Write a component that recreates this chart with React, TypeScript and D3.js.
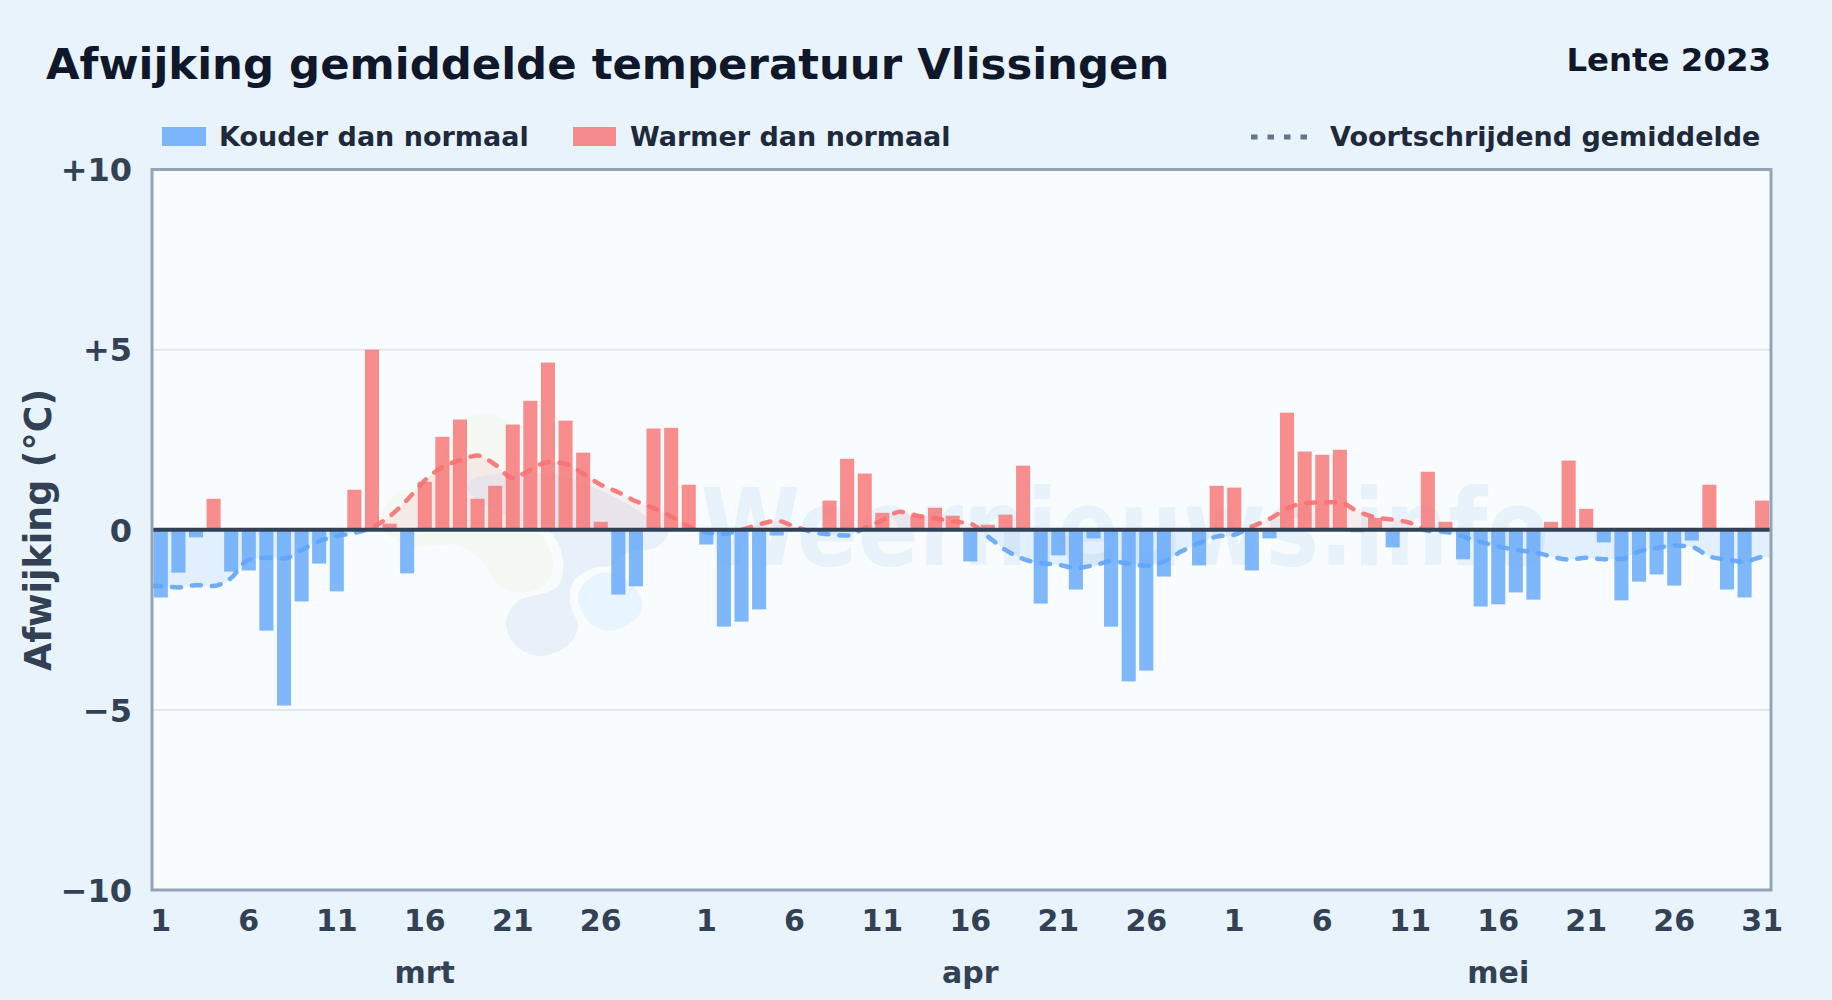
import React, { useEffect, useRef } from "react";
import * as d3 from "d3";

// afwijking per dag, 1 mrt t/m 31 mei 2023
const anomalies: number[] = [
  -1.88, -1.19, -0.21, 0.86, -1.16, -1.13, -2.8, -4.88, -1.99, -0.94, -1.71, 1.11, 5.0, 0.17, -1.21, 1.33,
  2.58, 3.06, 0.86, 1.22, 2.92, 3.58, 4.64, 3.03, 2.14, 0.22, -1.8, -1.57, 2.81, 2.83, 1.25,
  -0.41, -2.69, -2.55, -2.21, -0.16, 0, 0, 0.81, 1.97, 1.56, 0.47, 0, 0.39, 0.61, 0.39, -0.88, 0.14, 0.42, 1.78,
  -2.05, -0.71, -1.66, -0.24, -2.69, -4.21, -3.91, -1.3, 0, -0.99, 1.22,
  1.17, -1.13, -0.24, 3.25, 2.17, 2.08, 2.22, -0.07, 0.33, -0.49, 0, 1.61, 0.22, -0.82, -2.13, -2.07, -1.74, -1.94,
  0.22, 1.92, 0.58, -0.35, -1.96, -1.44, -1.24, -1.55, -0.3, 1.25, -1.66, -1.88, 0.81,
];

// voortschrijdend gemiddelde
const movingAvg: number[] = [
  -1.56, -1.6, -1.54, -1.56, -1.34, -0.83, -0.78, -0.8, -0.56, -0.32, -0.17, -0.09, 0.07, 0.37, 0.83, 1.37,
  1.74, 1.93, 2.06, 1.81, 1.44, 1.67, 1.88, 1.83, 1.56, 1.25, 1.04, 0.79, 0.6, 0.37, 0.09,
  -0.07, -0.11, 0, 0.15, 0.25, 0.09, -0.06, -0.13, -0.16, 0.05, 0.26, 0.5, 0.39, 0.32, 0.23, 0.17, -0.19, -0.56, -0.81,
  -0.93, -0.97, -1.06, -0.99, -0.88, -0.94, -1.0, -0.88, -0.6, -0.37, -0.19,
  -0.14, 0.09, 0.3, 0.59, 0.74, 0.76, 0.76, 0.51, 0.35, 0.28, 0.19, -0.03, -0.06, -0.19, -0.34, -0.46, -0.56, -0.62,
  -0.74, -0.83, -0.78, -0.82, -0.81, -0.6, -0.51, -0.44, -0.48, -0.74, -0.83, -0.89, -0.76,
];

const monthNames = ["mrt", "apr", "mei"];
const monthLengths = [31, 30, 31];
const dayTicks = [1, 6, 11, 16, 21, 26];
const yTicks = [-10, -5, 0, 5, 10];
const gridValues = [-5, 5];

// watermerk-logo, ruwe omtrekken
const blobGreen: [number, number][] = [
  [380, 520], [397, 492], [418, 487], [440, 460], [457, 423], [483, 413], [507, 422], [515, 450], [527, 517], [543, 537],
  [553, 563], [545, 585], [520, 593], [500, 587], [480, 560], [457, 545], [417, 547], [390, 537],
];
const blobBlue: [number, number][] = [
  [467, 483], [503, 473], [560, 475], [593, 487], [620, 500], [647, 517], [668, 533], [657, 547], [627, 553], [613, 565],
  [593, 568], [573, 582], [570, 603], [578, 627], [568, 645], [542, 656], [517, 647], [506, 623], [517, 602], [557, 587],
  [563, 560], [550, 532], [510, 517], [473, 497],
];
const blobLight: [number, number][] = [
  [578, 597], [590, 578], [613, 573], [637, 590], [642, 610], [630, 623], [610, 631], [590, 623],
];

const W = 1832;
const H = 1000;
const margin = { top: 169.5, right: 61, bottom: 110, left: 152 };
const FONT = "'DejaVu Sans', sans-serif";
const AXIS_COLOR = "#334155";
const BLUE = "#60a5fa";
const RED = "#f87171";

const monthIndex = (m: number) => d3.sum(monthLengths.slice(0, m));

const App: React.FC = () => {
  const ref = useRef<SVGSVGElement | null>(null);

  useEffect(() => {
    if (!ref.current) return;
    const svg = d3.select(ref.current);
    svg.selectAll("*").remove();

    const x0 = margin.left;
    const x1 = W - margin.right;
    const y0 = margin.top;
    const y1 = H - margin.bottom;

    const x = d3.scaleBand<number>().domain(d3.range(anomalies.length)).range([x0, x1]).paddingInner(0.2).paddingOuter(0.1);
    const xc = d3.scaleLinear().domain([-0.5, anomalies.length - 0.5]).range([x0, x1]);
    const y = d3.scaleLinear().domain([-10, 10]).range([y1, y0]);

    svg.append("rect").attr("width", W).attr("height", H).attr("fill", "#e8f3fc");
    svg.append("rect").attr("x", x0).attr("y", y0).attr("width", x1 - x0).attr("height", y1 - y0).attr("fill", "#f8fcff");

    const defs = svg.append("defs");
    defs.append("clipPath").attr("id", "above").append("rect").attr("x", x0).attr("y", y0).attr("width", x1 - x0).attr("height", y(0) - y0);
    defs.append("clipPath").attr("id", "below").append("rect").attr("x", x0).attr("y", y(0)).attr("width", x1 - x0).attr("height", y1 - y(0));

    // watermerk
    const blob = d3.line().curve(d3.curveCatmullRomClosed);
    svg.append("path").attr("d", blob(blobGreen)).attr("fill", "#f4f9f3");
    svg.append("path").attr("d", blob(blobBlue)).attr("fill", "#e8f1f9");
    svg.append("path").attr("d", blob(blobLight)).attr("fill", "#e9f5fe");
    svg.append("text")
      .attr("transform", "translate(1125,565) scale(0.84,1)")
      .attr("text-anchor", "middle")
      .attr("font-family", FONT).attr("font-weight", 700).attr("font-size", 107)
      .attr("fill", "#e8f2fa")
      .text("Weernieuws.info");

    // raster
    svg.append("g").selectAll("line").data(gridValues).join("line")
      .attr("x1", x0).attr("x2", x1)
      .attr("y1", d => y(d)).attr("y2", d => y(d))
      .attr("stroke", "#e2e8f0").attr("stroke-width", 2);

    // gebied + lijn
    const pts: [number, number][] = [
      [-0.5, movingAvg[0]],
      ...movingAvg.map((v, i) => [i, v] as [number, number]),
      [anomalies.length - 0.5, movingAvg[movingAvg.length - 1]],
    ];
    const area = d3.area<[number, number]>().x(d => xc(d[0])).y0(y(0)).y1(d => y(d[1])).curve(d3.curveMonotoneX);
    const line = d3.line<[number, number]>().x(d => xc(d[0])).y(d => y(d[1])).curve(d3.curveMonotoneX);

    svg.append("path").attr("d", area(pts)).attr("fill", RED).attr("opacity", 0.1).attr("clip-path", "url(#above)");
    svg.append("path").attr("d", area(pts)).attr("fill", BLUE).attr("opacity", 0.15).attr("clip-path", "url(#below)");

    // staven
    svg.append("g").selectAll("rect").data(anomalies.map((v, i) => ({ v, i })).filter(d => d.v !== 0)).join("rect")
      .attr("x", d => x(d.i) as number)
      .attr("width", x.bandwidth())
      .attr("y", d => y(Math.max(d.v, 0)))
      .attr("height", d => Math.abs(y(d.v) - y(0)))
      .attr("fill", d => (d.v > 0 ? RED : BLUE))
      .attr("opacity", 0.8);

    const dashed = (color: string, clip: string) =>
      svg.append("path").attr("d", line(pts)).attr("fill", "none")
        .attr("stroke", color).attr("stroke-width", 4.5).attr("opacity", 0.9)
        .attr("stroke-dasharray", "9 11").attr("stroke-linecap", "round")
        .attr("clip-path", `url(#${clip})`);
    dashed(RED, "above");
    dashed(BLUE, "below");

    // nullijn en kader
    svg.append("line").attr("x1", x0).attr("x2", x1).attr("y1", y(0)).attr("y2", y(0)).attr("stroke", AXIS_COLOR).attr("stroke-width", 4);
    svg.append("rect").attr("x", x0).attr("y", y0).attr("width", x1 - x0).attr("height", y1 - y0)
      .attr("fill", "none").attr("stroke", "#94a3b8").attr("stroke-width", 3);

    // y-as
    const yAxis = svg.append("g").attr("transform", `translate(${x0},1)`)
      .call(d3.axisLeft(y).tickValues(yTicks).tickSize(0).tickPadding(20)
        .tickFormat(d => (+d > 0 ? `+${d}` : +d < 0 ? `\u2212${Math.abs(+d)}` : "0")));
    yAxis.select(".domain").remove();
    yAxis.selectAll("text").attr("font-family", FONT).attr("font-weight", 700).attr("font-size", 32).attr("fill", AXIS_COLOR);

    svg.append("text")
      .attr("transform", `translate(51,530) rotate(-90)`)
      .attr("text-anchor", "middle")
      .attr("font-family", FONT).attr("font-weight", 700).attr("font-size", 36.4).attr("fill", AXIS_COLOR)
      .text("Afwijking (\u00b0C)");

    // x-as: dagen en maanden
    const xTicks: { i: number; label: string }[] = [];
    monthLengths.forEach((_, m) => dayTicks.forEach(d => xTicks.push({ i: monthIndex(m) + d - 1, label: String(d) })));
    xTicks.push({ i: anomalies.length - 1, label: "31" });
    const labels = new Map(xTicks.map(t => [t.i, t.label]));

    const xAxis = svg.append("g").attr("transform", `translate(0,${y1})`)
      .call(d3.axisBottom(x).tickValues(xTicks.map(t => t.i)).tickSize(0).tickPadding(20)
        .tickFormat(d => labels.get(d) ?? ""));
    xAxis.select(".domain").remove();
    xAxis.selectAll("text").attr("font-family", FONT).attr("font-weight", 700).attr("font-size", 30).attr("fill", AXIS_COLOR);

    svg.append("g").selectAll("text").data(monthNames).join("text")
      .attr("x", (_, m) => (x(monthIndex(m) + 15) as number) + x.bandwidth() / 2)
      .attr("y", 983)
      .attr("text-anchor", "middle")
      .attr("font-family", FONT).attr("font-weight", 700).attr("font-size", 30).attr("fill", AXIS_COLOR)
      .text(d => d);

    // titels
    svg.append("text").attr("x", 46).attr("y", 79)
      .attr("font-family", FONT).attr("font-weight", 700).attr("font-size", 43.4).attr("fill", "#0f172a")
      .text("Afwijking gemiddelde temperatuur Vlissingen");
    svg.append("text").attr("x", 1771).attr("y", 71).attr("text-anchor", "end")
      .attr("font-family", FONT).attr("font-weight", 700).attr("font-size", 32.4).attr("fill", "#0f172a")
      .text("Lente 2023");

    // legenda
    const legendText = (tx: number, label: string) =>
      svg.append("text").attr("x", tx).attr("y", 146)
        .attr("font-family", FONT).attr("font-weight", 700).attr("font-size", 27).attr("fill", "#1e293b")
        .text(label);
    svg.append("rect").attr("x", 162).attr("y", 127).attr("width", 44).attr("height", 19).attr("fill", BLUE).attr("opacity", 0.8);
    legendText(219, "Kouder dan normaal");
    svg.append("rect").attr("x", 573).attr("y", 127).attr("width", 43).attr("height", 19).attr("fill", RED).attr("opacity", 0.8);
    legendText(630, "Warmer dan normaal");
    svg.append("line").attr("x1", 1251).attr("x2", 1308).attr("y1", 137).attr("y2", 137)
      .attr("stroke", "#64748b").attr("stroke-width", 5).attr("stroke-dasharray", "6.5 10");
    legendText(1330, "Voortschrijdend gemiddelde");
  }, []);

  return <svg ref={ref} width={W} height={H} style={{ position: "absolute", left: 0, top: 0, display: "block" }} />;
};

export default App;
